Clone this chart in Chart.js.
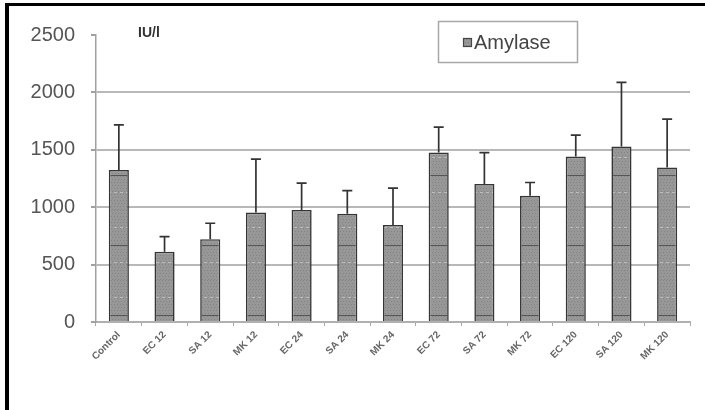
<!DOCTYPE html>
<html>
<head>
<meta charset="utf-8">
<script src="https://cdn.jsdelivr.net/npm/chart.js@4/dist/chart.umd.min.js"></script>
<style>
  html, body { margin: 0; padding: 0; background: #fff; }
  #wrap { width: 705px; height: 410px; position: relative; }
  canvas { display: block; filter: blur(0.6px); }
</style>
</head>
<body>
<div id="wrap"><canvas id="chart" width="705" height="410"></canvas></div>
<script>
// Groups: control plus three treatments sampled at 12, 24, 72 and 120 h
const categories = ['Control', 'EC 12', 'SA 12', 'MK 12', 'EC 24', 'SA 24', 'MK 24',
                    'EC 72', 'SA 72', 'MK 72', 'EC 120', 'SA 120', 'MK 120'];
// Serum amylase, mean and standard deviation (IU/l)
const amylaseMean = [1325, 613, 721, 953, 976, 942, 846, 1476, 1203, 1099, 1441, 1529, 1346];
const amylaseSD   = [392, 131, 139, 465, 233, 203, 320, 221, 273, 116, 187, 558, 421];
// Value axis ticks
const yTicks = [0, 500, 1000, 1500, 2000, 2500];
const unitLabel = 'IU/l';
const seriesName = 'Amylase';

// Stippled grey fill for the bars (tile anchored to the canvas)
function makeBarPattern() {
  const t = document.createElement('canvas');
  t.width = 6; t.height = 70;
  const g = t.getContext('2d');
  g.fillStyle = '#979797';
  g.fillRect(0, 0, 6, 70);
  g.fillStyle = '#848484';
  for (let y = 0; y < 70; y += 3) {
    for (let x = (y / 3) % 2 ? 1 : 0; x < 6; x += 3) g.fillRect(x, y, 1, 1);
  }
  g.fillStyle = '#bdbdbd';
  g.fillRect(0, 17, 3, 1);
  g.fillRect(0, 52, 3, 1);
  g.fillStyle = '#555';
  g.fillRect(0, 35, 6, 1);
  return document.getElementById('chart').getContext('2d').createPattern(t, 'repeat');
}
const barPattern = makeBarPattern();

const decorations = {
  id: 'decorations',
  beforeDraw(chart) {
    const ctx = chart.ctx;
    ctx.save();
    ctx.fillStyle = '#fff';
    ctx.fillRect(0, 0, chart.width, chart.height);
    ctx.restore();
  },
  afterDatasetsDraw(chart) {
    // error whiskers (mean + SD)
    const ctx = chart.ctx;
    const yScale = chart.scales.y;
    const meta = chart.getDatasetMeta(0);
    ctx.save();
    ctx.strokeStyle = '#333';
    ctx.lineWidth = 1.7;
    meta.data.forEach((bar, i) => {
      const yBar = yScale.getPixelForValue(amylaseMean[i]);
      const yTop = yScale.getPixelForValue(amylaseMean[i] + amylaseSD[i]);
      ctx.beginPath();
      ctx.moveTo(bar.x, yBar);
      ctx.lineTo(bar.x, yTop);
      ctx.moveTo(bar.x - 5, yTop);
      ctx.lineTo(bar.x + 5, yTop);
      ctx.stroke();
    });
    ctx.restore();
  },
  afterDraw(chart) {
    const ctx = chart.ctx;
    ctx.save();
    // unit label
    ctx.fillStyle = '#333';
    ctx.font = 'bold 14px "Liberation Sans", Arial, sans-serif';
    ctx.textBaseline = 'alphabetic';
    ctx.textAlign = 'left';
    ctx.fillText(unitLabel, 138, 37);
    // legend box
    ctx.strokeStyle = '#a8a8a8';
    ctx.lineWidth = 1.5;
    ctx.strokeRect(438.5, 21.5, 139, 41);
    ctx.fillStyle = barPattern;
    ctx.fillRect(463, 38, 9, 9);
    ctx.strokeStyle = '#444';
    ctx.lineWidth = 1.2;
    ctx.strokeRect(463.5, 38.5, 8, 8);
    ctx.fillStyle = '#444';
    ctx.font = '20px "Liberation Sans", Arial, sans-serif';
    ctx.textBaseline = 'middle';
    ctx.fillText(chart.data.datasets[0].label, 474, 43);
    // frame on the top and left edges
    ctx.fillStyle = '#000';
    ctx.fillRect(5, 3, 700, 3);
    ctx.fillRect(5, 3, 4, 407);
    ctx.restore();
  }
};

new Chart(document.getElementById('chart'), {
  type: 'bar',
  data: {
    labels: categories,
    datasets: [{
      label: seriesName,
      data: amylaseMean,
      backgroundColor: barPattern,
      borderColor: '#353535',
      borderWidth: 1.6,
      barPercentage: 0.44,
      categoryPercentage: 1
    }]
  },
  options: {
    responsive: false,
    animation: false,
    devicePixelRatio: 1,
    layout: { padding: { left: 0, right: 15, top: 35, bottom: 0 } },
    plugins: { legend: { display: false }, tooltip: { enabled: false } },
    scales: {
      x: {
        afterFit: s => { s.height = 88; },
        grid: {
          offset: true,
          drawOnChartArea: false,
          drawTicks: true,
          tickLength: 4,
          tickColor: '#aaa',
          lineWidth: 1
        },
        border: { color: '#b0b0b0', width: 2 },
        ticks: {
          maxRotation: 45,
          minRotation: 45,
          padding: 3,
          color: '#666',
          font: { family: '"Liberation Sans", Arial, sans-serif', size: 10, weight: 'bold' }
        }
      },
      y: {
        min: 0,
        max: 2500,
        afterFit: s => { s.width = 96; },
        afterBuildTicks: s => { s.ticks = yTicks.map(v => ({ value: v })); },
        grid: {
          color: c => (c.tick && (c.tick.value === 2500 || c.tick.value === 0)) ? 'rgba(0,0,0,0)' : '#b8b8b8',
          tickColor: '#a0a0a0',
          lineWidth: 2,
          tickLength: 5
        },
        border: { color: '#a0a0a0', width: 1.5 },
        ticks: {
          padding: 16,
          color: '#555',
          callback: v => String(v),
          font: { family: '"Liberation Sans", Arial, sans-serif', size: 20 }
        }
      }
    }
  },
  plugins: [decorations]
});
</script>
</body>
</html>
